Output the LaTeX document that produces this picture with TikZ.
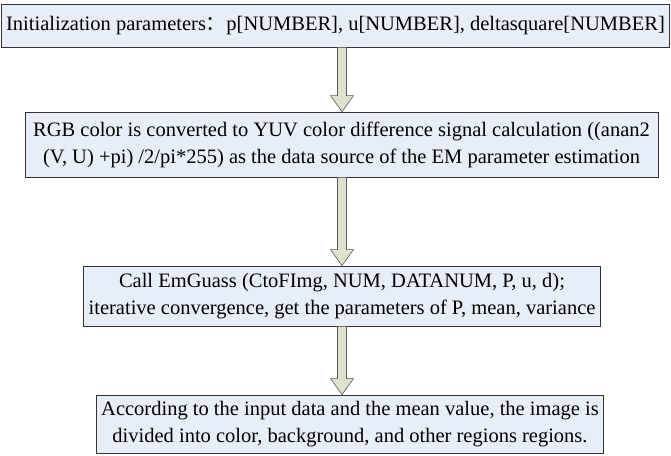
\documentclass[tikz,border=0pt]{standalone}
\usepackage{fontspec}
\setmainfont{Liberation Serif}
\newfontfamily\cjk{Noto Sans CJK SC}
\usepackage{xcolor}
\usetikzlibrary{positioning, calc}
\definecolor{boxfill}{HTML}{E7EEF8}
\definecolor{arrfill}{HTML}{DEE1CB}
\newcommand{\blockarrow}[2]{%
    \path (#1.south -| axis) coordinate (s) (#2.north -| axis) coordinate (e);
    \draw[fatarr] ($(s)+(-4.5pt,0)$) -- ($(e)+(-4.5pt,16pt)$) -- ($(e)+(-11.5pt,16pt)$)
        -- (e) -- ($(e)+(11.5pt,16pt)$) -- ($(e)+(4.5pt,16pt)$) -- ($(s)+(4.5pt,0)$) -- cycle;}

\begin{document}
\begin{tikzpicture}[
    x=1pt, y=1pt,
    stage/.style={rectangle, draw=black!80, line width=0.8pt, fill=boxfill,
                  font=\fontsize{20.5}{27}\selectfont, align=center,
                  inner xsep=5pt, inner ysep=0pt},
    fatarr/.style={draw=black!65, line width=0.6pt, fill=arrfill, line join=miter},
]
    \useasboundingbox (0,0) rectangle (671,-455);
    \coordinate (axis) at (342,0);

    \node[stage, minimum width=666pt, minimum height=43pt] (init) at (335.5,-25.5)
        {Initialization parameters{\cjk ：}p[NUMBER], u[NUMBER], deltasquare[NUMBER]};
    \node[stage, minimum width=633pt, minimum height=65pt] (yuv) at (341.5,-144.5)
        {RGB color is converted to YUV color difference signal calculation ((anan2\\
         (V, U) +pi) /2/pi*255) as the data source of the EM parameter estimation};
    \node[stage, minimum height=60pt] (em) at (342,-296)
        {Call EmGuass (CtoFImg, NUM, DATANUM, P, u, d);\\
         iterative convergence, get the parameters of P, mean, variance};
    \node[stage, minimum height=58pt] (seg) at (350,-424)
        {According to the input data and the mean value, the image is\\
         divided into color, background, and other regions regions.};

    \blockarrow{init}{yuv}
    \blockarrow{yuv}{em}
    \blockarrow{em}{seg}
\end{tikzpicture}
\end{document}
